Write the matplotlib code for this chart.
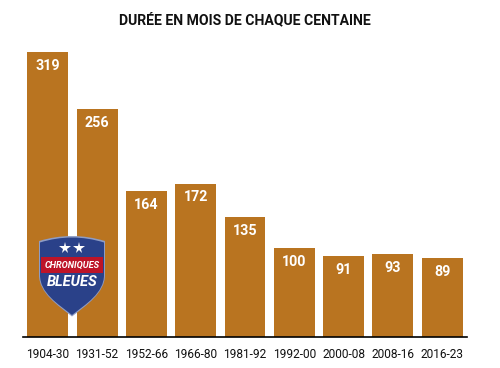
import numpy as np
import matplotlib
matplotlib.use('Agg')
import matplotlib.pyplot as plt
from matplotlib.patches import PathPatch, Rectangle
from matplotlib.path import Path

periods = ['1904-30', '1931-52', '1952-66', '1966-80', '1981-92',
           '1992-00', '2000-08', '2008-16', '2016-23']
months = [319, 256, 164, 172, 135, 100, 91, 93, 89]

W, H = 500, 368
BAR = '#b97420'
FONT = ['Roboto', 'DejaVu Sans']

fig = plt.figure(figsize=(W / 100, H / 100), dpi=100, facecolor='white')

# axes box is placed on the baseline of the bars
ax = fig.add_axes([23 / W, (H - 337) / H, 444 / W, 284.6 / H])
x = np.arange(len(months))
ax.bar(x, months, width=0.83, color=BAR)
ax.set_xlim(-0.503, 8.503)
ax.set_ylim(0, 319)

for i, v in zip(x, months):
    ax.annotate(str(v), (i, v), xytext=(0, -5), textcoords='offset points',
                ha='center', va='top', color='white', fontsize=10.3,
                fontweight='bold', family=FONT)

ax.set_xticks(x)
ax.set_xticklabels(periods, fontsize=8.6, family=FONT, color='#111111')
ax.tick_params(axis='x', length=0, pad=8)
ax.set_yticks([])
for s in ['top', 'left', 'right']:
    ax.spines[s].set_visible(False)
ax.spines['bottom'].set_linewidth(1.2)
ax.spines['bottom'].set_color('black')

fig.text(245 / W, 1 - 20 / H, 'DURÉE EN MOIS DE CHAQUE CENTAINE', ha='center',
         va='center', fontsize=10.05, fontweight='bold', family=FONT, color='#111111')

# logo, in pixel coordinates on a full figure overlay
logo = fig.add_axes([0, 0, 1, 1], zorder=5)
logo.set_xlim(0, W)
logo.set_ylim(H, 0)
logo.axis('off')


def shield(x0, x1, top, side, tip):
    xm = (x0 + x1) / 2
    verts = [(x0, top + 5), (xm, top - 5), (x1, top + 5), (x1, side),
             (x1, side + 18), (xm + 14, tip - 11), (xm, tip),
             (xm - 14, tip - 11), (x0, side + 18), (x0, side), (x0, top + 5)]
    codes = [Path.MOVETO, Path.CURVE3, Path.CURVE3, Path.LINETO,
             Path.CURVE4, Path.CURVE4, Path.CURVE4,
             Path.CURVE4, Path.CURVE4, Path.CURVE4, Path.LINETO]
    return Path(verts, codes)


logo.add_patch(PathPatch(shield(39, 105, 236, 275, 316.5),
                         facecolor='#8e9cc4', edgecolor='none'))
logo.add_patch(PathPatch(shield(40, 104, 237.5, 275, 315),
                         facecolor='#2a4189', edgecolor='none'))
logo.add_patch(Rectangle((41, 257), 62, 16, facecolor='#bd1428', edgecolor='none'))
logo.plot([65.3, 78.5], [247.5, 247.5], ls='none', marker='*', ms=8.5,
          color='white', mew=0)
logo.text(72.5, 265, 'CHRONIQUES', ha='center', va='center', color='white',
          fontsize=6.6, fontstyle='italic', fontweight='bold', family=FONT)
logo.text(72.5, 282.5, 'BLEUES', ha='center', va='center', color='white',
          fontsize=10.5, fontstyle='italic', fontweight='bold', family=FONT)

fig.savefig('out.png', dpi=100)
